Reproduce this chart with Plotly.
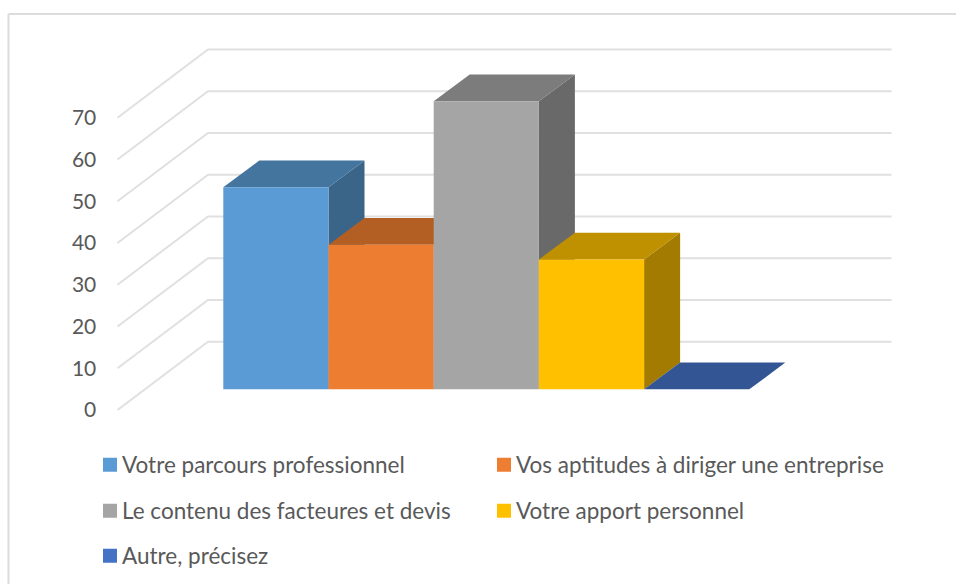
import plotly.graph_objects as go

W, H = 956, 584

categories = ["Votre parcours professionnel", "Vos aptitudes à diriger une entreprise",
              "Le contenu des facteures et devis", "Votre apport personnel", "Autre, précisez"]
values = [48.4, 34.6, 69.0, 31.1, 0]
tick_vals = [0, 10, 20, 30, 40, 50, 60, 70]

front_colors = ["#5b9bd5", "#ed7d31", "#a5a5a5", "#ffc000", "#4472c4"]
top_colors = ["#44759f", "#b35e23", "#7c7c7c", "#bf9000", "#335593"]
side_colors = ["#3a6488", "#96501e", "#696969", "#a37b00", "#2b4a7d"]

# pixel calibration of the fake 3D box (x unit = one bar, y unit = one value point)
BAR_PX = 105.2
VAL_PX = 4.176
X0_PX = 223.3
Y0_PX = 410.0

def px_x(p):
    return (p - X0_PX) / BAR_PX

def px_y(p):
    return (Y0_PX - p) / VAL_PX

WALL_LEFT = px_x(117.5)
WALL_RIGHT = px_x(891.5)
WALL_DX = 90.5 / BAR_PX
WALL_DY = 68.3 / VAL_PX
BASE = px_y(389.3)
DEPTH_X = 36 / BAR_PX
DEPTH_Y = 26.7 / VAL_PX

fig = go.Figure()

def poly(xs, ys, color):
    fig.add_trace(go.Scatter(x=xs + xs[:1], y=ys + ys[:1], mode="lines", fill="toself",
                             fillcolor=color, line=dict(width=0, color=color),
                             hoverinfo="skip", showlegend=False))

# gridlines: side wall then back wall
for t in tick_vals:
    fig.add_trace(go.Scatter(
        x=[WALL_LEFT, WALL_LEFT + WALL_DX, WALL_RIGHT],
        y=[t, t + WALL_DY, t + WALL_DY],
        mode="lines", line=dict(color="#e0e0e0", width=2),
        hoverinfo="skip", showlegend=False))

# bars, left to right so each one hides the side of the previous one
for i, v in enumerate(values):
    top = BASE + v
    poly([i + 1, i + 1 + DEPTH_X, i + 1 + DEPTH_X, i + 1],
         [BASE, BASE + DEPTH_Y, top + DEPTH_Y, top], side_colors[i])
    poly([i, i + 1, i + 1 + DEPTH_X, i + DEPTH_X],
         [top, top, top + DEPTH_Y, top + DEPTH_Y], top_colors[i])
    if v > 0:
        poly([i, i + 1, i + 1, i], [BASE, BASE, top, top], front_colors[i])

# one small legend per entry, Excel puts them on a loose grid
legend_pos = [(90, 465), (484, 465), (90, 511), (484, 511), (90, 556)]
legends = {}
for i, name in enumerate(categories):
    key = "legend" if i == 0 else f"legend{i + 1}"
    fig.add_trace(go.Scatter(x=[None], y=[None], mode="markers", name=name, legend=key,
                             marker=dict(symbol="square", size=14, color=front_colors[i])))
    legends[key] = dict(x=legend_pos[i][0] / W, y=1 - legend_pos[i][1] / H,
                        xanchor="left", yanchor="middle", bgcolor="rgba(0,0,0,0)",
                        font=dict(family="Lato", size=22.5, color="#595959"))

fig.update_layout(
    width=W, height=H,
    margin=dict(l=0, r=0, t=0, b=0),
    paper_bgcolor="white", plot_bgcolor="white",
    xaxis=dict(visible=False, range=[px_x(0), px_x(W)]),
    yaxis=dict(range=[px_y(H), px_y(0)], anchor="free", position=117.5 / W,
               tickvals=tick_vals, showgrid=False, zeroline=False, showline=False,
               ticks="outside", ticklen=17, tickcolor="rgba(0,0,0,0)",
               tickfont=dict(family="Lato", size=21, color="#595959")),
    # only the top and left edges of the chart frame are in the picture
    shapes=[
        dict(type="line", xref="paper", yref="paper", x0=8.5 / W, x1=1, y0=1 - 14 / H, y1=1 - 14 / H,
             line=dict(color="#dcdcdc", width=2)),
        dict(type="line", xref="paper", yref="paper", x0=8.5 / W, x1=8.5 / W, y0=0, y1=1 - 14 / H,
             line=dict(color="#dcdcdc", width=2)),
    ],
    **legends,
)

# plotly keeps 40px between legend swatch and text, the reference has less
post = """
document.body.style.margin = '0';
var st = document.createElement('style');
st.textContent = 'text[class$="text"][class^="legend"] { transform: translateX(-8px); }';
document.head.appendChild(st);
"""
fig.write_html("out.html", config={"displayModeBar": False}, post_script=post)
